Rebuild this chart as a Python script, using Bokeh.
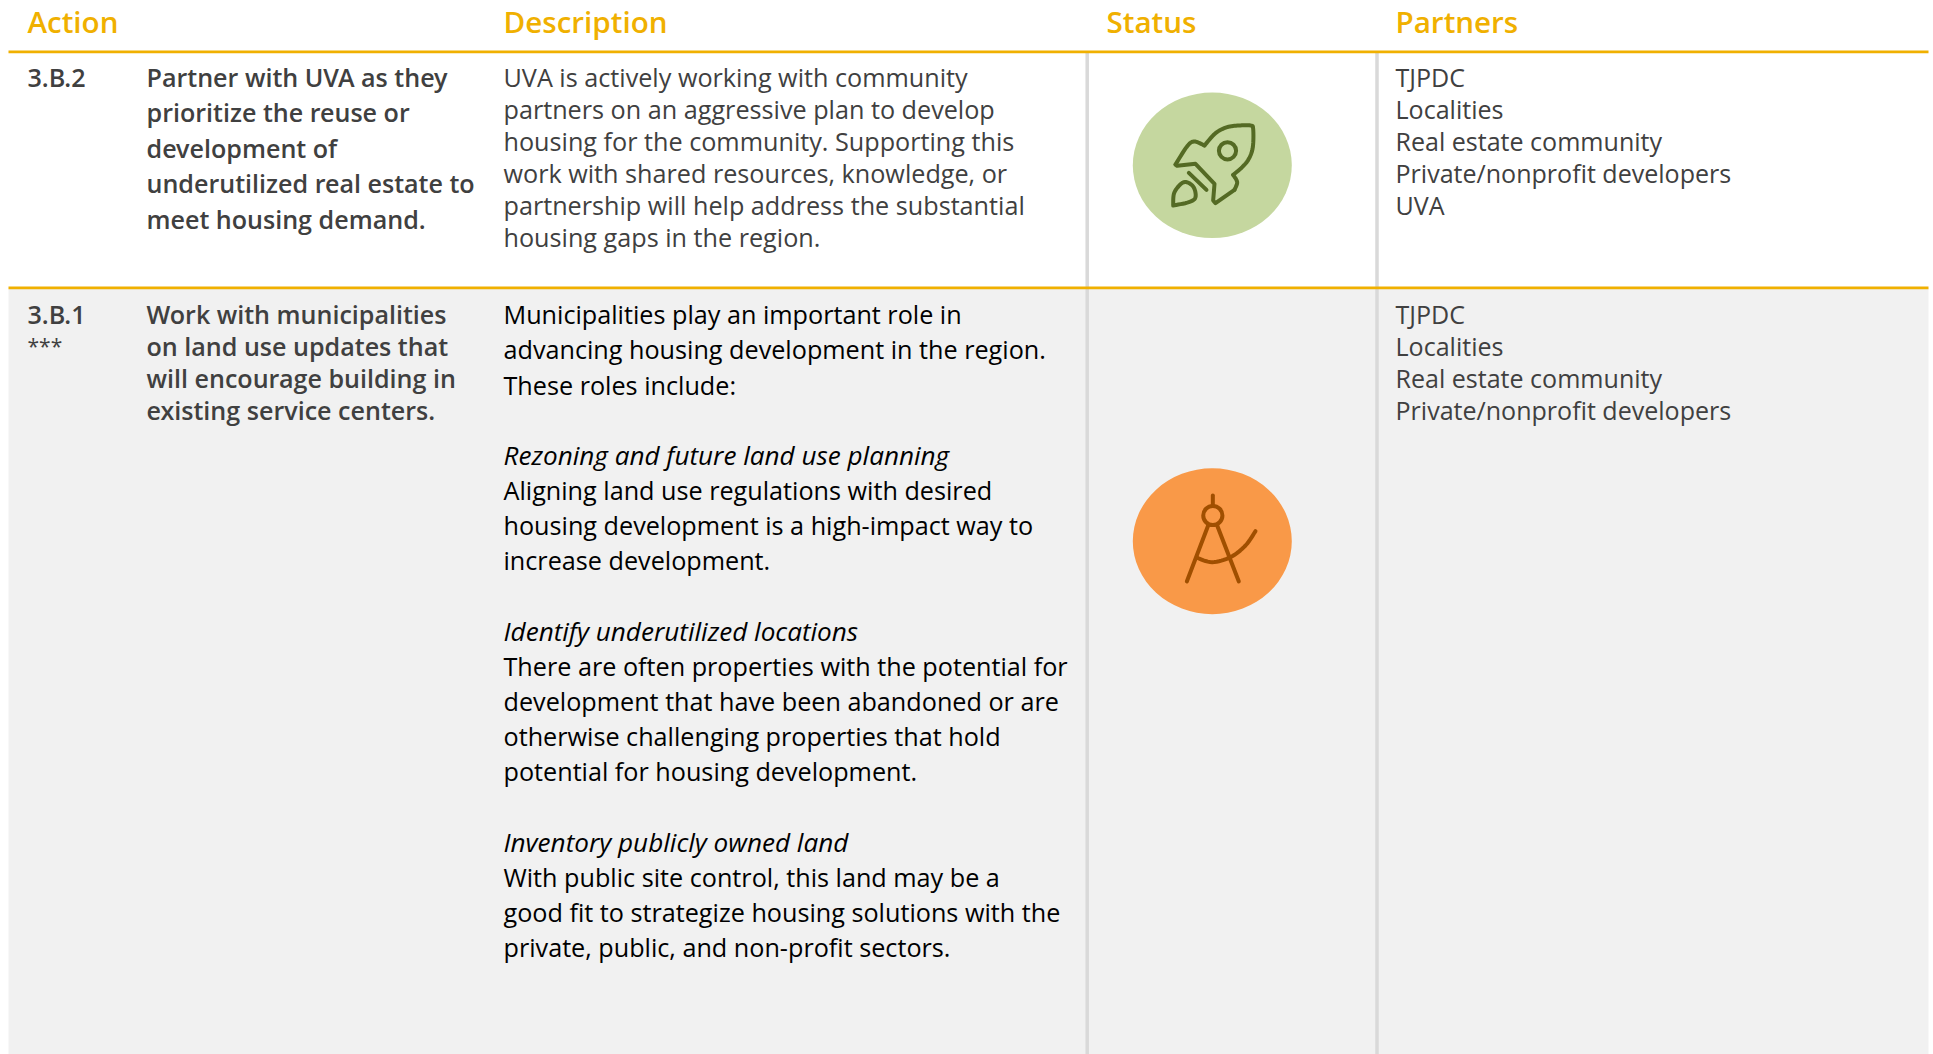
from bokeh.plotting import figure
from bokeh.models import Range1d
from bokeh.core.properties import value
from bokeh.embed import file_html
from bokeh.resources import INLINE

# ---- content ----
headers = ["Action", "Description", "Status", "Partners"]
row1_id = ["3.B.2"]
row1_action = ["Partner with UVA as they", "prioritize the reuse or", "development of",
               "underutilized real estate to", "meet housing demand."]
row1_desc = ["UVA is actively working with community", "partners on an aggressive plan to develop",
             "housing for the community. Supporting this", "work with shared resources, knowledge, or",
             "partnership will help address the substantial", "housing gaps in the region."]
row1_partners = ["TJPDC", "Localities", "Real estate community", "Private/nonprofit developers", "UVA"]
row2_id = ["3.B.1"]
row2_note = ["***"]
row2_action = ["Work with municipalities", "on land use updates that", "will encourage building in",
               "existing service centers."]
row2_desc = [("Municipalities play an important role in", 0), ("advancing housing development in the region.", 0),
             ("These roles include:", 0), ("", 0),
             ("Rezoning and future land use planning", 1),
             ("Aligning land use regulations with desired", 0), ("housing development is a high-impact way to", 0),
             ("increase development.", 0), ("", 0),
             ("Identify underutilized locations", 1),
             ("There are often properties with the potential for", 0),
             ("development that have been abandoned or are", 0),
             ("otherwise challenging properties that hold", 0),
             ("potential for housing development.", 0), ("", 0),
             ("Inventory publicly owned land", 1),
             ("With public site control, this land may be a", 0),
             ("good fit to strategize housing solutions with the", 0),
             ("private, public, and non-profit sectors.", 0)]
row2_partners = ["TJPDC", "Localities", "Real estate community", "Private/nonprofit developers"]

# ---- layout / style ----
W, H = 1933, 1054
RIGHT = 1928
FONT = "Open Sans"
FONT_SEMI = "Open Sans SemiBold"
GOLD, GREY_BG, RULE = "#F0B000", "#F1F1F1", "#D9D9D9"
DARK, BLACK = "#404040", "#000000"
COLS = dict(id=27, action=146, desc=503, status=1106, partners=1395)
S_HEAD, S_BOLD, S_DESC, S_ITAL, S_PART, S_NOTE = 29.6, 25.1, 25.2, 26.1, 25.05, 21

p = figure(width=W, height=H, output_backend="svg", toolbar_location=None,
           x_range=Range1d(0, W), y_range=Range1d(H, 0), min_border=0,
           outline_line_color=None, background_fill_color="white", border_fill_color="white")
p.axis.visible = False
p.grid.visible = False

p.quad(left=8, right=RIGHT, top=288, bottom=H, fill_color=GREY_BG, line_color=None)
for x in (1086.7, 1376.5):
    p.segment(x, 52, x, H, line_color=RULE, line_width=3.5)
for y in (51.3, 287.3):
    p.segment(8, y, RIGHT, y, line_color=GOLD, line_width=2.8)


def put(lines, x, y0, dy, size, color, font=FONT, style="normal"):
    ys = [y0 + dy * i for i in range(len(lines))]
    p.text([x] * len(lines), ys, text=lines, text_font=value(font), text_font_size=f"{size}px",
           text_color=color, text_font_style=style, text_baseline="alphabetic", text_align="left")


for h, x in zip(headers, (COLS["id"], COLS["desc"], COLS["status"], COLS["partners"])):
    put([h], x, 21, 0, S_HEAD, GOLD, FONT_SEMI)

put(row1_id, COLS["id"], 76.5, 0, S_BOLD, DARK, FONT_SEMI)
put(row1_action, COLS["action"], 76.5, 35.4, S_BOLD, DARK, FONT_SEMI)
put(row1_desc, COLS["desc"], 76.8, 32, S_DESC, DARK)
put(row1_partners, COLS["partners"], 76.5, 32, S_PART, DARK)

put(row2_id, COLS["id"], 313.5, 0, S_BOLD, DARK, FONT_SEMI)
put(row2_note, COLS["id"], 345, 0, S_NOTE, DARK)
put(row2_action, COLS["action"], 313.5, 32, S_BOLD, DARK, FONT_SEMI)
dy = 35.15
for i, (t, it) in enumerate(row2_desc):
    if t:
        if it:
            put([t], COLS["desc"], 313.8 + dy * i, 0, S_ITAL, BLACK, style="italic")
        else:
            put([t], COLS["desc"], 313.8 + dy * i, 0, S_DESC, BLACK)
put(row2_partners, COLS["partners"], 313, 32, S_PART, DARK)


# ---- status icons ----
def smooth(pts, n=8):
    out = []
    P = [pts[0]] + pts + [pts[-1]]
    for i in range(1, len(P) - 2):
        a, b, c, d = P[i - 1], P[i], P[i + 1], P[i + 2]
        for k in range(n):
            t = k / n
            out.append(tuple(0.5 * (2 * b[j] + (c[j] - a[j]) * t + (2 * a[j] - 5 * b[j] + 4 * c[j] - d[j]) * t * t
                                    + (3 * b[j] - a[j] - 3 * c[j] + d[j]) * t ** 3) for j in (0, 1)))
    out.append(pts[-1])
    return out


def stroke(pts, ox, oy, color, curve=True):
    q = smooth(pts) if curve else pts
    p.line([ox + a / 3 for a, _ in q], [oy + b / 3 for _, b in q], line_color=color, line_width=4,
           line_cap="round", line_join="round")


GREEN, GREEN_DK = "#C5D79F", "#546A24"
ORANGE, ORANGE_DK = "#F99948", "#A04F00"
p.ellipse(x=1211.8, y=164.8, width=159, height=145.7, fill_color=GREEN, line_color=None)
p.ellipse(x=1211.8, y=540.7, width=159, height=146, fill_color=ORANGE, line_color=None)

R = (1080, 60)
rocket_a = [(285, 312), (318, 260), (340, 243), (372, 255)]
rocket_b = [(372, 255), (405, 218), (440, 200), (475, 195), (510, 195), (518, 205), (517, 260), (505, 295), (485, 320), (458, 343)]
rocket_c = [(458, 343), (470, 365), (462, 388)]
rocket_d = [(462, 388), (405, 428), (398, 420), (402, 370), (345, 310), (290, 316), (285, 312)]
for seg, curve in ((rocket_a, True), (rocket_b, True), (rocket_c, True), (rocket_d, False)):
    stroke(seg, *R, GREEN_DK, curve)
stroke([(325, 337), (378, 388)], *R, GREEN_DK, False)
stroke([(278, 433), (282, 395), (310, 365), (338, 378), (345, 410), (325, 425), (278, 435)], *R, GREEN_DK)
p.circle(x=1080 + 441 / 3, y=60 + 271 / 3, radius=8.6, fill_color=None, line_color=GREEN_DK, line_width=4)

C = (1100, 450)
stroke([(337, 135), (337, 165)], *C, ORANGE_DK, False)
stroke([(323, 225), (259, 393)], *C, ORANGE_DK, False)
stroke([(350, 225), (415, 393)], *C, ORANGE_DK, False)
stroke([(290, 322), (335, 335), (390, 320), (435, 285), (465, 242)], *C, ORANGE_DK)
p.circle(x=1100 + 337 / 3, y=450 + 195 / 3, radius=9.6, fill_color=None, line_color=ORANGE_DK, line_width=4)

open("out.html", "w").write(file_html(p, INLINE))
